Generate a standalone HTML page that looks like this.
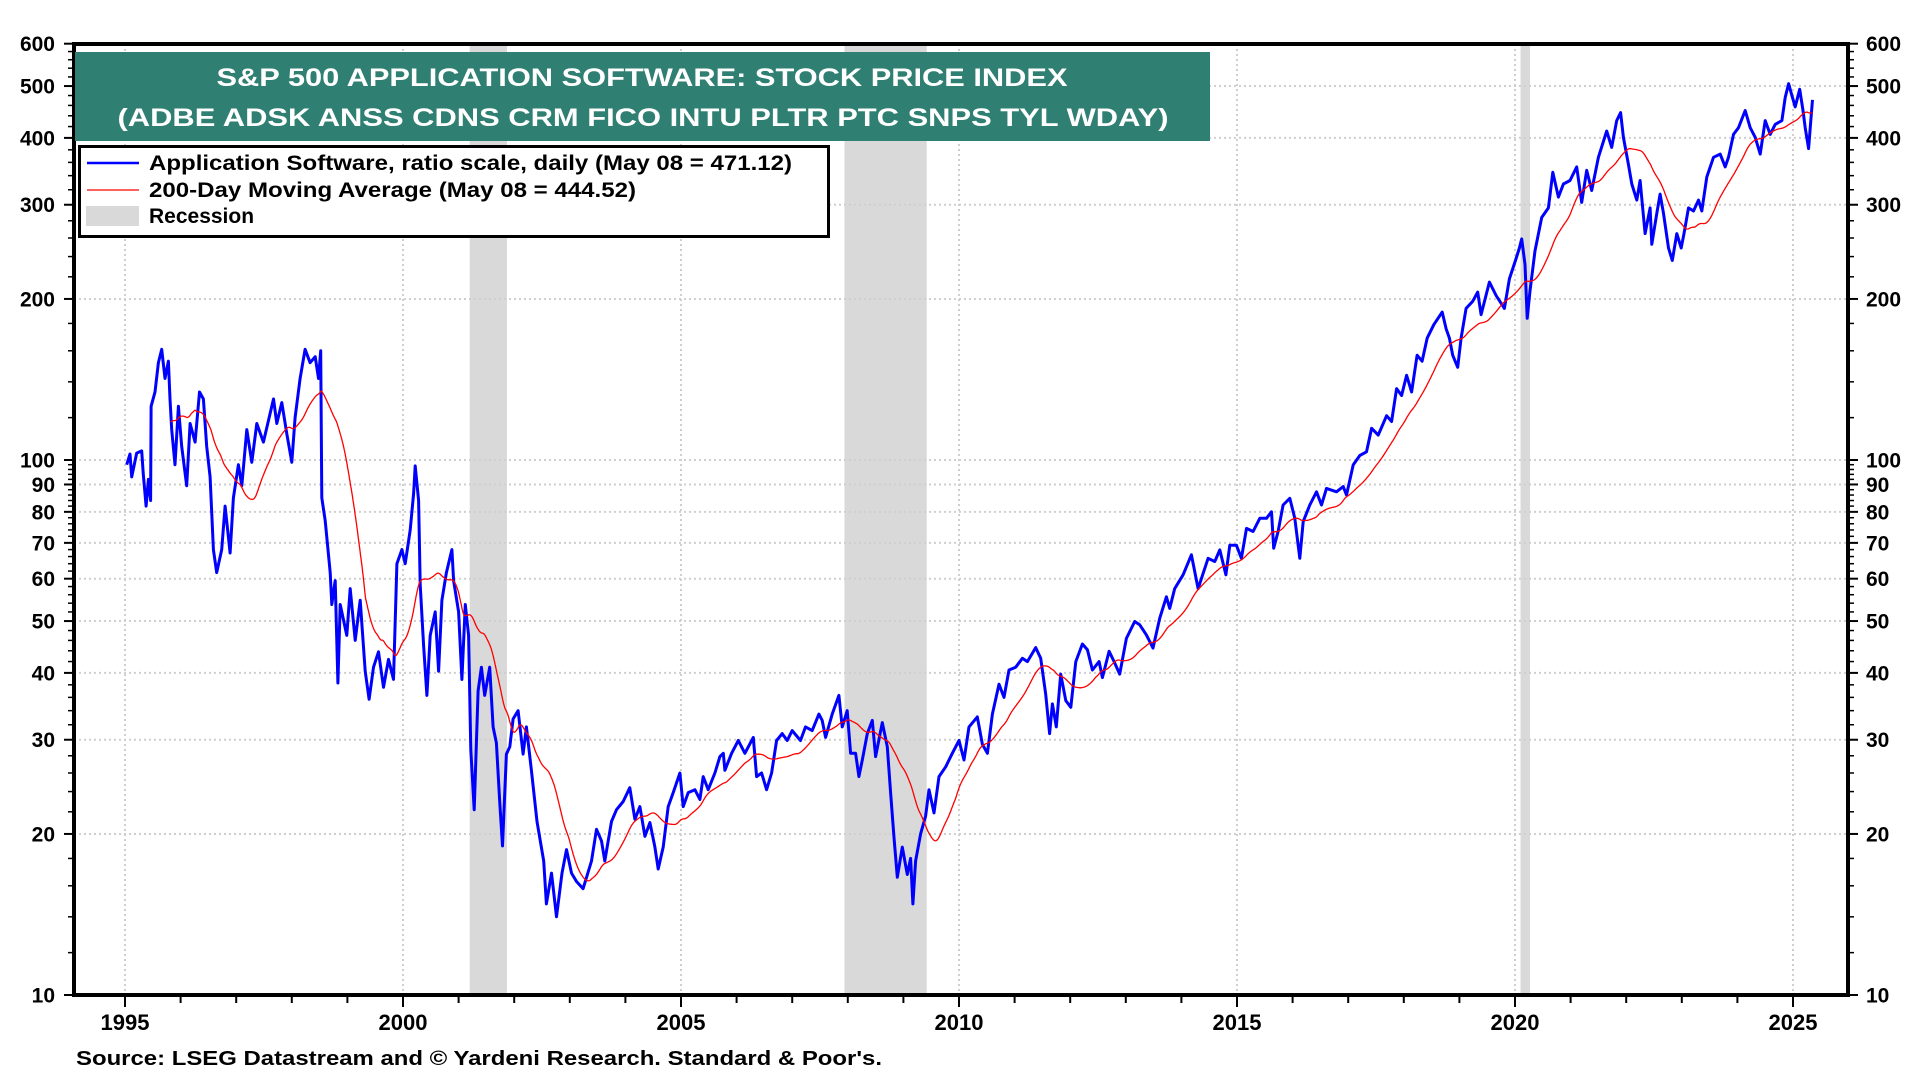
<!DOCTYPE html>
<html><head><meta charset="utf-8"><style>
html,body{margin:0;padding:0;background:#fff;}
svg{display:block;font-family:"Liberation Sans",Arial,sans-serif;font-weight:bold;}
</style></head><body>
<svg id="chart" width="1920" height="1080" viewBox="0 0 1920 1080">
<g id="recessions"></g>
<g id="grid"></g>
<g id="series"></g>
<g id="axes"></g>
<g>
<rect x="75" y="52" width="1135" height="89" fill="#2f7f72"/>
<text x="642" y="86" fill="#fff" font-size="25" text-anchor="middle" textLength="851" lengthAdjust="spacingAndGlyphs">S&amp;P 500 APPLICATION SOFTWARE: STOCK PRICE INDEX</text>
<text x="643" y="126" fill="#fff" font-size="25" text-anchor="middle" textLength="1051" lengthAdjust="spacingAndGlyphs">(ADBE ADSK ANSS CDNS CRM FICO INTU PLTR PTC SNPS TYL WDAY)</text>
</g>
<g>
<rect x="79.5" y="146.5" width="749" height="90" fill="#fff" stroke="#000" stroke-width="3"/>
<line x1="87" y1="163" x2="139" y2="163" stroke="#0000ff" stroke-width="2.5"/>
<text x="149" y="170" font-size="21" textLength="643" lengthAdjust="spacingAndGlyphs">Application Software, ratio scale, daily (May 08 = 471.12)</text>
<line x1="87" y1="190" x2="139" y2="190" stroke="#ff0000" stroke-width="1.3"/>
<text x="149" y="197" font-size="21" textLength="487" lengthAdjust="spacingAndGlyphs">200-Day Moving Average (May 08 = 444.52)</text>
<rect x="86" y="206" width="53" height="20" fill="#d9d9d9"/>
<text x="149" y="223" font-size="21">Recession</text>
</g>
<text x="76" y="1065" font-size="20" textLength="806" lengthAdjust="spacingAndGlyphs">Source: LSEG Datastream and © Yardeni Research. Standard &amp; Poor's.</text>
</svg>
<script>
const years = [1995.03,1995.09,1995.12,1995.21,1995.30,1995.33,1995.38,1995.42,1995.46,1995.47,1995.54,1995.60,1995.66,1995.72,1995.78,1995.81,1995.84,1995.90,1995.96,1996.02,1996.11,1996.17,1996.26,1996.34,1996.41,1996.47,1996.53,1996.59,1996.65,1996.74,1996.80,1996.89,1996.95,1997.04,1997.10,1997.19,1997.28,1997.37,1997.49,1997.67,1997.73,1997.82,1997.91,1998.00,1998.06,1998.15,1998.24,1998.33,1998.42,1998.48,1998.52,1998.54,1998.60,1998.69,1998.72,1998.78,1998.83,1998.87,1998.99,1999.05,1999.14,1999.23,1999.32,1999.39,1999.47,1999.56,1999.65,1999.74,1999.83,1999.89,1999.98,2000.04,2000.13,2000.19,2000.22,2000.28,2000.31,2000.37,2000.43,2000.49,2000.58,2000.64,2000.70,2000.78,2000.88,2000.91,2001.00,2001.06,2001.12,2001.18,2001.22,2001.28,2001.35,2001.41,2001.47,2001.56,2001.62,2001.68,2001.74,2001.79,2001.86,2001.92,2001.98,2002.07,2002.16,2002.22,2002.31,2002.41,2002.53,2002.58,2002.67,2002.76,2002.86,2002.94,2003.03,2003.12,2003.24,2003.39,2003.48,2003.57,2003.63,2003.75,2003.84,2003.96,2004.08,2004.17,2004.26,2004.35,2004.44,2004.53,2004.59,2004.68,2004.77,2004.86,2004.98,2005.04,2005.13,2005.25,2005.34,2005.40,2005.49,2005.61,2005.70,2005.76,2005.79,2005.91,2006.03,2006.15,2006.30,2006.36,2006.45,2006.54,2006.63,2006.72,2006.82,2006.91,2007.00,2007.15,2007.24,2007.36,2007.48,2007.54,2007.60,2007.72,2007.84,2007.90,2007.99,2008.05,2008.14,2008.20,2008.26,2008.35,2008.44,2008.50,2008.62,2008.71,2008.77,2008.83,2008.89,2008.98,2009.07,2009.13,2009.17,2009.22,2009.31,2009.40,2009.46,2009.55,2009.64,2009.76,2009.88,2010.00,2010.09,2010.18,2010.33,2010.42,2010.51,2010.60,2010.72,2010.81,2010.90,2011.02,2011.14,2011.23,2011.38,2011.47,2011.56,2011.63,2011.68,2011.75,2011.83,2011.92,2012.01,2012.10,2012.22,2012.31,2012.40,2012.52,2012.58,2012.70,2012.79,2012.89,2013.01,2013.16,2013.25,2013.37,2013.49,2013.61,2013.73,2013.79,2013.88,2014.03,2014.18,2014.30,2014.48,2014.60,2014.69,2014.80,2014.87,2014.99,2015.08,2015.17,2015.29,2015.41,2015.53,2015.62,2015.66,2015.74,2015.83,2015.95,2016.04,2016.13,2016.19,2016.31,2016.43,2016.52,2016.61,2016.79,2016.91,2016.97,2017.09,2017.21,2017.33,2017.42,2017.54,2017.69,2017.78,2017.87,2017.96,2018.05,2018.14,2018.24,2018.33,2018.42,2018.54,2018.69,2018.76,2018.82,2018.88,2018.97,2019.03,2019.12,2019.24,2019.33,2019.39,2019.54,2019.66,2019.81,2019.90,2020.02,2020.08,2020.12,2020.18,2020.22,2020.27,2020.36,2020.48,2020.60,2020.68,2020.78,2020.87,2020.99,2021.11,2021.20,2021.29,2021.38,2021.50,2021.65,2021.74,2021.83,2021.90,2021.95,2022.04,2022.10,2022.19,2022.25,2022.34,2022.43,2022.46,2022.55,2022.61,2022.67,2022.76,2022.83,2022.91,2022.99,2023.04,2023.12,2023.21,2023.30,2023.36,2023.45,2023.57,2023.69,2023.78,2023.84,2023.93,2024.02,2024.14,2024.23,2024.32,2024.41,2024.50,2024.59,2024.68,2024.80,2024.86,2024.92,2024.98,2025.04,2025.12,2025.18,2025.22,2025.28,2025.32,2025.35];
const values = [98,102.6,93,103,104,94,82,92,84,126,134,152,161,142,153,130,114,98,126,106,89.5,117,108,134,130,106,93,68,61.6,68,82,67,85,98,89.5,114,99,117,108,130,117,128,112,99,120,142,161,152,156,142,160,85,77,61.6,53.7,59.5,38.3,53.7,47,57.5,46,54.7,40.3,35.7,41,43.8,37.6,42.4,38.9,64,68,64,74,86.5,97.5,84,58.5,45,36.3,47,52,40.3,54.7,61.6,68,59.5,52,38.9,53.7,47,28.7,22.2,37,41,36.3,41,31.7,29.6,23,19,28.2,29.1,32.8,34,28.2,31.7,26.3,21.1,17.8,14.8,16.9,14,16.9,18.7,16.9,16.3,15.8,17.8,20.4,19.4,17.8,21.1,22.2,23,24.4,21.3,22.5,19.8,21,18.9,17.2,18.9,22.5,23.9,26,22.5,23.9,24.2,23.2,25.6,24.2,26,27.9,28.3,26.3,28.3,29.9,28.3,30.3,25.6,26,24.2,26,29.9,30.8,29.9,31.2,29.9,31.7,31.2,33.5,32.6,30.3,33.5,36.3,31.7,34,28.3,28.3,25.6,27.5,30.8,32.6,27.9,32.3,29.1,23.9,19.8,16.6,18.9,16.8,18,14.8,17.8,20,21.6,24.2,21.9,25.6,26.7,28.3,29.9,27.5,31.7,33.1,29.4,28.3,33.5,38.1,36,40.5,41,42.6,42,44.6,42.6,36.5,30.8,35,31.7,39.8,35.5,34.5,42,45.3,44.2,40.5,42,39.2,43.9,42,39.8,46.4,49.9,49.2,47.1,44.5,50.6,55.5,52.8,57.5,61,66.5,57.5,65.5,64.6,67.9,61,69.3,69.3,65.5,74.5,73.5,77.8,77.8,80,68.4,73.5,82.4,84.8,77.8,65.5,76.7,82.4,87.2,82.4,88.5,87.2,89.2,86,97.9,102,103.6,114.6,111.3,121,118,136,132,144,134,157,153,169,179,189,176,169,157,149,169,192,198,206,187,215,203,192,218,238,249,259,232,184,207,246,284,296,345,310,328,333,353,303,348,319,368,412,384,431,446,401,357,328,306,333,265,296,253,289,314,289,249,236,265,249,265,296,292,306,292,338,368,373,353,368,406,418,450,418,401,373,431,406,424,431,476,505,480,457,493,450,418,382,431,471.12];
const recessionStarts = [2001.2, 2007.94, 2020.1];
const recessionEnds = [2001.87, 2009.42, 2020.27];
const yTickValues = [10,20,30,40,50,60,70,80,90,100,200,300,400,500,600];
const yTickLabels = ["10","20","30","40","50","60","70","80","90","100","200","300","400","500","600"];
const xTickYears = [1995,2000,2005,2010,2015,2020,2025];
const xTickLabels = ["1995","2000","2005","2010","2015","2020","2025"];
const maWindowDays = 200;

const NS = "http://www.w3.org/2000/svg";
const X0 = 74, X1 = 1848, YT = 44, YB = 995;
function xs(yr){ return 125 + (yr - 1995) * 55.6; }
function ys(v){ return YB - 535 * Math.log10(v / 10); }
function mk(tag, attrs, parent){
  const e = document.createElementNS(NS, tag);
  for (const k in attrs) e.setAttribute(k, attrs[k]);
  parent.appendChild(e);
  return e;
}
const gR = document.getElementById('recessions');
const gG = document.getElementById('grid');
const gS = document.getElementById('series');
const gA = document.getElementById('axes');

for (let i = 0; i < recessionStarts.length; i++) {
  const r = mk('rect', {x: xs(recessionStarts[i]), y: YT, width: xs(recessionEnds[i]) - xs(recessionStarts[i]), height: YB - YT, fill: '#d9d9d9'}, gR);
  
  
}
yTickValues.forEach((v, i) => {
  if (v === 10 || v === 600) return;
  const l = mk('line', {x1: X0, x2: X1, y1: ys(v), y2: ys(v), stroke: '#cfcfcf', 'stroke-width': 2, 'stroke-dasharray': '2,3'}, gG);
  
  
});
xTickYears.forEach(yr => {
  const l = mk('line', {x1: xs(yr), x2: xs(yr), y1: YT, y2: YB, stroke: '#cfcfcf', 'stroke-width': 2, 'stroke-dasharray': '2,3'}, gG);
  
  
});

const step = 1 / 252;
const dailyT = [], dailyV = [];
for (let t = years[0], k = 0; t <= years[years.length - 1] + 1e-9; t += step) {
  while (k < years.length - 2 && years[k + 1] < t) k++;
  const f = Math.max(0, Math.min(1, (t - years[k]) / (years[k + 1] - years[k])));
  dailyT.push(t);
  dailyV.push(Math.exp(Math.log(values[k]) * (1 - f) + Math.log(values[k + 1]) * f));
}
let maPts = [], sum = 0;
for (let i = 0; i < dailyV.length; i++) {
  sum += dailyV[i];
  if (i >= maWindowDays) sum -= dailyV[i - maWindowDays];
  if (i >= maWindowDays - 1 && (i % 2 === 0 || i === dailyV.length - 1)) maPts.push(xs(dailyT[i]).toFixed(1) + ',' + ys(sum / maWindowDays).toFixed(1));
}
const blue = mk('polyline', {points: years.map((y, i) => xs(y).toFixed(1) + ',' + ys(values[i]).toFixed(1)).join(' '), fill: 'none', stroke: '#0000ff', 'stroke-width': 3, 'stroke-linejoin': 'round'}, gS);


const red = mk('polyline', {points: maPts.join(' '), fill: 'none', stroke: '#ff0000', 'stroke-width': 1.3}, gS);



const frame = mk('rect', {x: X0, y: YT, width: X1 - X0, height: YB - YT, fill: 'none', stroke: '#000', 'stroke-width': 4}, gA);


const minors = [];
for (let v = 12; v < 100; v += 2) if (v % 10 !== 0) minors.push(v);
for (let v = 120; v < 600; v += 20) if (v % 100 !== 0) minors.push(v);
minors.forEach(v => {
  const a = mk('line', {x1: X0 - 6, x2: X0, y1: ys(v), y2: ys(v), stroke: '#000', 'stroke-width': 1.5}, gA);
  
  
  const b = mk('line', {x1: X1, x2: X1 + 6, y1: ys(v), y2: ys(v), stroke: '#000', 'stroke-width': 1.5}, gA);
  
  
});
yTickValues.forEach((v, i) => {
  const a = mk('line', {x1: X0 - 10, x2: X0, y1: ys(v), y2: ys(v), stroke: '#000', 'stroke-width': 2}, gA);
  
  
  const b = mk('line', {x1: X1, x2: X1 + 10, y1: ys(v), y2: ys(v), stroke: '#000', 'stroke-width': 2}, gA);
  
  
  const tl = mk('text', {x: 55, y: ys(v) + 7.5, 'font-size': 21, 'text-anchor': 'end'}, gA);
  tl.textContent = yTickLabels[i];
  
  
  const tr = mk('text', {x: 1866, y: ys(v) + 7.5, 'font-size': 21}, gA);
  tr.textContent = yTickLabels[i];
  
  
});
for (let yr = 1995; yr <= 2025; yr++) {
  const major = xTickYears.indexOf(yr) >= 0;
  const t = mk('line', {x1: xs(yr), x2: xs(yr), y1: YB, y2: YB + (major ? 12 : 8), stroke: '#000', 'stroke-width': 2}, gA);
  
  
}
xTickYears.forEach((yr, i) => {
  const t = mk('text', {x: xs(yr), y: 1030, 'font-size': 22, 'text-anchor': 'middle'}, gA);
  t.textContent = xTickLabels[i];
  
  
});
</script>
</body></html>
